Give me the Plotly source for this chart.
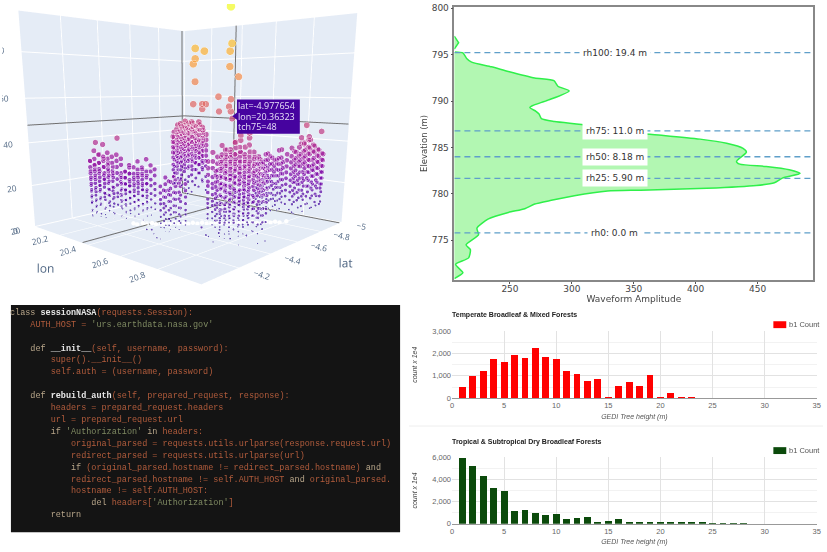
import plotly.graph_objects as go

W, H = 827, 552
def px(x): return x / W
def py(y): return 1 - y / H

# ---------- 3D panel data: ground position of each stack of footprints, and the heights found there ----------
tower_lon = [20.11,20.124,20.138,20.153,20.167,20.181,20.196,20.21,
 20.225,20.239,20.253,20.267,20.28,20.294,20.308,20.322,20.335,
 20.505,20.52,20.535,20.55,20.565,20.58,
 20.125,20.139,20.153,20.167,20.181,20.195,20.208,20.222,20.236,20.25,
 20.715,20.729,20.742,20.756,20.769,20.783,20.797,20.81,20.824,20.838,20.851,20.865,
 20.63,20.645,20.66,20.675,20.69,20.705,20.72,
 20.77,20.785,20.8,20.815,20.83,20.845,20.86,20.875,20.89,
 20.785,20.81,
 20.157,20.171,20.185,20.2,20.214,20.228,
 20.265,20.279,20.293,20.307,20.32,20.334,20.348,
 20.54,20.555,20.57,20.585,
 20.09,20.104,20.118,20.132,20.146,20.16,20.174,20.188,20.2,
 20.773,20.787,20.8,20.813,20.827,20.84,20.854,20.868,20.882,20.895,
 20.647,20.661,20.675,20.688,20.702,20.715,20.729,20.743,20.757,20.77,
 20.68,20.695,20.71,20.725,20.74,
 20.82,20.835,20.85,20.865,20.88,20.895,20.91]
tower_lat = [-4.24,-4.254,-4.268,-4.283,-4.297,-4.311,-4.326,-4.34,
 -4.325,-4.339,-4.353,-4.367,-4.38,-4.394,-4.408,-4.422,-4.435,
 -4.305,-4.32,-4.335,-4.35,-4.365,-4.38,
 -4.775,-4.789,-4.803,-4.817,-4.831,-4.845,-4.858,-4.872,-4.886,-4.9,
 -4.415,-4.429,-4.442,-4.456,-4.469,-4.483,-4.497,-4.51,-4.524,-4.538,-4.551,-4.565,
 -4.83,-4.845,-4.86,-4.875,-4.89,-4.905,-4.92,
 -4.87,-4.885,-4.9,-4.915,-4.93,-4.945,-4.96,-4.975,-4.99,
 -4.485,-4.51,
 -4.207,-4.221,-4.235,-4.25,-4.264,-4.278,
 -4.29,-4.304,-4.318,-4.332,-4.345,-4.359,-4.373,
 -4.29,-4.305,-4.32,-4.335,
 -4.82,-4.834,-4.848,-4.862,-4.876,-4.89,-4.904,-4.918,-4.93,
 -4.373,-4.387,-4.4,-4.413,-4.427,-4.44,-4.454,-4.468,-4.482,-4.495,
 -4.447,-4.461,-4.475,-4.488,-4.502,-4.515,-4.529,-4.543,-4.557,-4.57,
 -4.81,-4.825,-4.84,-4.855,-4.87,
 -4.85,-4.865,-4.88,-4.895,-4.91,-4.925,-4.94]
tower_tch = [
 [30,27,24,21,18,15,12,9,5,3],[35,31,28,25,22,19,16,13,10,7,4],[33,29,26,24,20,18,15,11,8,2],[38,32,30,27,23,21,17,14,12,6,3],
 [34,31,28,26,22,19,16,13,9,5],[32,29,25,23,20,17,15,11,7,4,1],[33,30,27,24,21,18,14,12,8],[31,28,24,22,19,16,13,10,6,2],
 [22,19,16,13,10,7,3],[25,22,19,16,14,11,8,5],[27,24,20,18,15,12,9,4],[24,21,18,15,13,10,6,2],[30,26,23,20,17,14,11,8],
 [27,24,21,18,16,13,9,5,1],[31,25,22,19,15,12,10,6],[28,25,21,18,14,11,7,3],[26,23,19,16,13,9,6],
 [22,19,16,14,11,8,5,3],[26,23,20,17,13,10,7,4,1],[24,21,18,15,12,9,6,2],[28,25,22,19,16,13,10,7,3],[25,22,18,15,12,8,5,1],[23,20,17,14,11,9,6,4],
 [38,35,32,29,26,22,19,15],[42,39,36,33,30,27,24,21,17,11],[45,41,38,35,32,29,26,23,19,14],[44,40,37,34,31,28,25,22,18,8],[43,40,36,33,30,27,24,20,12,5],
 [46,42,38,35,32,28,25,21,16,6],[44,41,37,34,31,27,23,19,10],[46,42,39,36,33,29,26,22,17,9],[43,40,37,34,30,27,24,20,13],[39,36,33,30,27,24,21,15,7],
 [30,28,25,23,20,18,15,13,10,8,5],[36,33,30,27,24,22,19,16,13,11,8,5,2],[39,35,32,29,27,24,21,18,15,12,9,6],[38,34,31,28,26,23,20,17,14,10,7,3],
 [42,37,33,30,27,25,22,19,16,13,11,8,4,1],[40,36,32,29,26,24,21,18,15,12,9,5],[37,34,31,28,25,22,20,17,14,11,8,6,2],[41,36,33,30,27,24,21,18,16,13,10,7],
 [38,35,32,29,26,23,19,16,13,10,7,3],[36,33,30,27,24,22,19,15,12,9,5],[33,31,28,25,22,19,16,13,10,6],[30,27,25,22,19,16,13,11,7],
 [30,27,24,21,18,15,12,9],[28,25,22,19,16,13,10,6,2],[32,29,26,23,20,17,14,11,7],[31,27,24,20,18,15,12,8,4],[29,26,23,21,17,14,11,9,5],[34,30,27,24,21,18,15,12,8,3],[28,25,22,19,16,13,10,7],
 [33,30,27,24,21,18,15,12,8],[36,32,29,26,23,20,17,14,10,5],[34,31,28,25,22,19,16,13,9,3],[38,33,30,27,24,21,18,15,11,6],[35,32,29,26,23,20,17,13,10,4],
 [40,36,33,30,27,24,20,17,14,8],[37,34,31,28,25,22,18,15,12,6],[35,32,29,26,23,19,16,12,7],[33,30,27,24,21,18,14,9],
 [54,51,48,45,43],[52,49,46,44],
 [31,26,23,20,17,14,11,7,4],[29,27,24,22,18,16,12,9,6],[34,30,26,23,19,17,13,10,5],[32,28,25,22,20,15,12,8,3],[30,26,24,21,17,14,11,9],[28,25,23,18,15,13,10,5],
 [24,21,17,15,12,9,4],[26,23,20,17,12,10,6,3],[29,25,22,19,16,13,7],[28,23,20,17,14,11,8,4],[25,23,20,16,12,9,5],[27,24,20,17,14,10,7,2],[24,20,17,14,11,8,4],
 [21,18,15,13,10,7,4],[25,21,19,16,12,8,5,2],[27,24,20,17,14,11,6],[24,20,17,13,10,7,3],
 [40,37,34,31,28,24,20,16,10],[44,40,37,34,31,28,25,22,18,13],[43,39,36,33,30,26,23,20,15,9],[46,42,38,35,32,29,26,23,19,12],[45,41,39,36,33,30,27,24,20,14,7],
 [45,43,40,37,34,30,26,23,18,11],[43,39,35,32,29,25,22,18,13],[44,41,38,35,31,28,25,21,16],[41,38,35,32,29,26,22,18,11],
 [35,32,29,26,24,21,17,14,11,9,6,3],[38,34,31,28,25,23,20,17,15,12,9,4,2],[40,37,34,31,28,25,22,19,17,14,11,7,4],[43,38,35,32,29,26,23,20,18,15,12,9,6],[39,35,32,30,27,23,20,18,14,12,8,5,3],
 [41,37,35,33,28,25,23,20,17,13,10,7,4],[39,35,32,29,27,24,21,19,16,13,11,8],[37,34,31,29,26,23,20,18,15,12,9,5],[36,32,30,27,25,22,18,15,13,11,8,4],[32,29,26,23,21,18,15,12,9,6],
 [33,30,27,24,22,19,16,14,12,9,7],[37,33,30,26,23,21,18,15,13,10,7,4],[35,32,29,26,24,20,17,14,12,9,6],[40,36,33,30,26,23,21,17,14,11,8],[38,35,31,28,25,22,19,17,14,10,6],
 [36,33,30,27,25,21,18,16,13,10,7],[39,34,31,29,26,23,19,17,14,12,9],[37,33,30,26,23,20,18,15,13,10,6],[34,31,28,26,23,20,17,14,11,8],[31,28,26,23,20,17,14,12,8],
 [29,26,23,20,17,14,11,8,5],[33,30,26,22,19,16,13,10,6],[31,28,25,22,19,17,13,10,4],[30,28,25,22,18,16,12,9,7],[35,31,28,25,23,20,16,13,10,5],
 [35,31,28,25,22,20,16,13,9,5],[37,33,30,28,24,21,19,15,11],[39,35,32,29,25,22,20,16,13,8],[42,37,34,31,28,25,22,18,13,9],[38,35,31,28,26,23,20,17,12,7],[36,33,30,27,24,21,18,14,10],[34,31,28,25,22,19,17,13,9],
]
# single footprints: tall outliers and sparse low returns
single_lon = [20.75,20.655,20.68,20.755,20.75,20.655,20.65,20.75,20.775,20.655,20.72,20.755,20.65,20.675,20.685,20.675,20.75,20.722,20.755,20.36323,
 20.83,20.88,20.815,20.84,20.825,20.2,20.13,
 20.53,20.55,20.57,20.6,20.62,20.74,20.76,20.78,20.8,20.82,20.86,20.88,20.9,20.94,20.96]
single_lat = [-4.45,-4.355,-4.38,-4.455,-4.45,-4.355,-4.35,-4.45,-4.475,-4.355,-4.42,-4.455,-4.35,-4.375,-4.385,-4.375,-4.45,-4.422,-4.455,-4.977654,
 -4.93,-4.98,-4.915,-4.94,-4.925,-4.33,-4.26,
 -4.2,-4.22,-4.19,-4.21,-4.17,-4.3,-4.32,-4.28,-4.3,-4.31,-4.33,-4.36,-4.38,-4.4,-4.42]
single_tch = [96,80,79,82,79,76,74,73,69,67,61,60,58,58,58,56,57,55,55,48,
 47,44,41,40,38,41,39,
 5,3,6,2,4,8,4,6,3,7,5,2,6,3,4]
# white floor returns
floor_lon = [20.315,20.33,20.345,20.36,20.375,20.39,20.405,20.42,20.435,20.45,20.465,20.48,20.495,20.51,20.525,20.54,20.555,20.57,20.585,20.6,20.615,20.63,20.645,20.66,20.675,20.69,20.705,20.72,20.735,20.75,20.765,20.78,20.795,20.815]
floor_lat = [-4.315,-4.325,-4.345,-4.355,-4.375,-4.385,-4.405,-4.415,-4.43,-4.445,-4.46,-4.475,-4.49,-4.505,-4.52,-4.535,-4.55,-4.565,-4.58,-4.595,-4.61,-4.625,-4.64,-4.655,-4.67,-4.685,-4.7,-4.715,-4.73,-4.745,-4.76,-4.775,-4.79,-4.815]
floor_tch = [1,0.5,1,0.5,1,0.5,0.5,1,0.5,1,0.5,1,0.5,1,0.5,1,0.5,0.5,1,0.5,1,0.5,1,0.5,1,0.5,1,0.5,0.5,1,0.5,1,0.5,1]
hover_lat, hover_lon, hover_tch = -4.977654, 20.36323, 48

# ---------- waveform panel data ----------
wave_amp = [205.1,212,206,216.6,218,214.5,224.6,223.3,232.6,248.7,262,270,283.4,302,328.8,355.5,409,449,463.6,470,484.4,475.6,457,435.6,433,441,438.3,425,403.5,374,339,312.8,286,275.4,273.5,271,266,268,280.7,297.8,288.7,285.5,270,248.7,235,219,215,212,205.5]
wave_elev = [770.87,771.5,772.4,773.1,774,774.5,775.6,776.3,777.3,778,778.4,778.9,779.3,779.8,780.3,780.4,780.6,780.9,781.2,781.7,782.2,782.6,782.95,783.2,783.5,784.5,784.9,785.45,785.9,786.3,786.7,787.4,787.8,788.1,788.6,788.9,789.3,789.5,790.1,791.1,791.6,792.2,792.5,793.2,793.7,794.2,794.6,795.2,795.3]
wave_top_amp = [205, 208.5, 205]
wave_top_elev = [795.6, 796.3, 797]
rh_labels = ["rh100: 19.4 m", "rh75: 11.0 m", "rh50: 8.18 m", "rh25: 5.90 m", "rh0: 0.0 m"]
rh_elev = [795.23, 786.8, 784.0, 781.67, 775.8]

# ---------- histogram data ----------
bins_d = list(range(1, 24))
count_d = [490,980,1220,1750,1600,1940,1770,2240,1840,1750,1200,1060,760,860,20,520,710,550,1030,15,200,40,10]
bins_e = list(range(1, 29))
count_e = [5900,5150,4280,3200,2950,1130,1220,950,800,880,400,500,600,180,200,450,90,150,150,100,70,70,70,50,25,25,15,10]

fig = go.Figure()

# ---- 3D ----
lat_pts, lon_pts, tch_pts = list(single_lat), list(single_lon), list(single_tch)
for la, lo, hs in zip(tower_lat, tower_lon, tower_tch):
    for h in hs:
        lat_pts.append(la); lon_pts.append(lo); tch_pts.append(h)
fig.add_trace(go.Scatter3d(x=floor_lat, y=floor_lon, z=floor_tch, mode="markers",
    marker=dict(size=2.6, color="white", line=dict(color="white", width=0)), showlegend=False))
fig.add_trace(go.Scatter3d(x=lat_pts, y=lon_pts, z=tch_pts, mode="markers",
    marker=dict(size=tch_pts, sizemode="area", sizeref=0.45, color=tch_pts, colorscale="Plasma",
                cmin=0, cmax=96, line=dict(color="white", width=0.7)), showlegend=False))
spk = dict(mode="lines", line=dict(color="#707070", width=2), showlegend=False, hoverinfo="skip")
fig.add_trace(go.Scatter3d(x=[-4,-4.997,-4.997,-4.997,-4.997,-4.997], y=[hover_lon]*3+[hover_lon,20,21], z=[0.3,0.3,97,hover_tch,hover_tch,hover_tch], **spk))
fig.add_trace(go.Scatter3d(x=[hover_lat,hover_lat,hover_lat], y=[21,20.003,20.003], z=[0.3,0.3,97], **spk))
fig.add_trace(go.Scatter3d(x=[-5,-4], y=[20.003,20.003], z=[hover_tch,hover_tch], **spk))
ax3 = dict(backgroundcolor="#e5ecf6", gridcolor="white", zerolinecolor="white", showbackground=True,
           linecolor="white", ticks="", tickfont=dict(color="#506784", size=10, family="Open Sans"),
           showspikes=False)
fig.update_layout(scene=dict(
    domain=dict(x=[0, px(380)], y=[py(410), py(0)]),
    xaxis=dict(ax3, title=dict(text="lat", font=dict(size=12, color="#506784")), range=[-5, -4], tickvals=[-5,-4.8,-4.6,-4.4,-4.2], ticktext=["−5","−4.8","−4.6","−4.4","−4.2"]),
    yaxis=dict(ax3, title=dict(text="lon", font=dict(size=12, color="#506784")), range=[20, 21], tickvals=[20,20.2,20.4,20.6,20.8]),
    zaxis=dict(ax3, title=dict(text=""), range=[0, 97], tickvals=[0,20,40,60,80]),
    camera=dict(eye=dict(x=1.6, y=1.45, z=0.15), center=dict(x=0, y=0, z=-0.37)),
    aspectmode="manual", aspectratio=dict(x=1, y=1, z=0.92),
))

# ---- waveform ----
fig.add_trace(go.Scatter(x=wave_amp, y=wave_elev, mode="lines", fill="tozerox", fillcolor="#b2f7b2",
    line=dict(color="#2ff04a", width=1.5, shape="spline", smoothing=0.6), xaxis="x", yaxis="y", showlegend=False))
fig.add_trace(go.Scatter(x=wave_top_amp, y=wave_top_elev, mode="lines", fill="tozerox", fillcolor="#b2f7b2",
    line=dict(color="#2ff04a", width=1.5), xaxis="x", yaxis="y", showlegend=False))
for e in rh_elev:
    fig.add_trace(go.Scatter(x=[205.1, 495.1], y=[e, e], mode="lines", line=dict(color="#5f9fc9", width=1.3, dash="6px,4px"),
                             xaxis="x", yaxis="y", showlegend=False))
annos = []
for t, e in zip(rh_labels, rh_elev):
    annos.append(dict(x=334.7, y=e, xref="x", yref="y", text=t, showarrow=False, bgcolor="white",
                      font=dict(family="DejaVu Sans", size=9, color="#333333"), borderpad=3))
frame = dict(showline=True, linecolor="#888888", linewidth=1.5, mirror=True, ticks="outside", ticklen=2,
             tickcolor="#555555", showgrid=False, zeroline=False, tickfont=dict(family="DejaVu Sans", size=9, color="#444444"))
fig.update_layout(
    xaxis=dict(frame, domain=[px(455.7), px(817.3)], anchor="y", range=[205.1, 495.1], tickvals=[250,300,350,400,450],
               ticklabelstandoff=-3,
               title=dict(text="Waveform Amplitude", font=dict(family="DejaVu Sans", size=9, color="#444444"), standoff=1)),
    yaxis=dict(frame, domain=[py(280.7), py(2.7)], anchor="x", range=[770.7, 800.18], tickvals=[775,780,785,790,795,800],
               title=dict(text="Elevation (m)", font=dict(family="DejaVu Sans", size=8.5, color="#444444"), standoff=3)),
)

# ---- histograms ----
def gax(domain, anchor):
    return dict(domain=domain, anchor=anchor, range=[0, 35], tickvals=[0,5,10,15,20,25,30,35], showgrid=True,
                gridcolor="#e2e2e2", zeroline=False, showline=True, linecolor="#999999", ticks="",
                tickfont=dict(family="Liberation Sans", size=7.5, color="#666666"),
                title=dict(text="GEDI Tree height (m)", font=dict(family="Liberation Sans", size=7, color="#555555", style="italic"), standoff=4))
def gay(domain, anchor, rng, dt, title):
    return dict(domain=domain, anchor=anchor, range=rng, dtick=dt, showgrid=True, gridcolor="#e2e2e2", zeroline=False,
                tickformat=",", ticks="", minor=dict(dtick=dt/2, showgrid=True, gridcolor="#f2f2f2"),
                tickfont=dict(family="Liberation Sans", size=7.5, color="#666666"),
                title=dict(text=title, font=dict(family="Liberation Sans", size=7, color="#444444", style="italic"), standoff=13))
fig.add_trace(go.Bar(x=bins_d, y=count_d, width=0.66, marker=dict(color="#ff0000", line_width=0), xaxis="x2", yaxis="y2", showlegend=False))
fig.add_trace(go.Bar(x=bins_e, y=count_e, width=0.66, marker=dict(color="#0b4a0b", line_width=0), xaxis="x3", yaxis="y3", showlegend=False))
fig.update_layout(
    xaxis2=gax([px(453.3), px(820.7)], "y2"), yaxis2=gay([py(400.7), py(332.7)], "x2", [0, 3000], 1000, "count x 1e4"),
    xaxis3=gax([px(453.3), px(820.7)], "y3"), yaxis3=gay([py(528.3), py(460.7)], "x3", [0, 6000], 2000, "count x 1e4"),
)
shapes = []
def legend(y, color):
    shapes.append(dict(type="rect", xref="paper", yref="paper", x0=px(777), x1=px(790), y0=py(y+3.5), y1=py(y-3.5), fillcolor=color, line_width=0, layer="above"))
    annos.append(dict(xref="paper", yref="paper", x=px(791), y=py(y), xanchor="left", yanchor="middle", text="b1 Count", showarrow=False,
                      font=dict(family="Liberation Sans", size=7.5, color="#555555")))
legend(326, "#ff0000"); legend(454, "#0b4a0b")
annos.append(dict(xref="paper", yref="paper", x=px(451), y=py(316), xanchor="left", yanchor="middle", text="<b>Temperate Broadleaf &amp; Mixed Forests</b>", showarrow=False,
                  font=dict(family="Liberation Sans", size=7, color="#222222")))
annos.append(dict(xref="paper", yref="paper", x=px(451), y=py(445), xanchor="left", yanchor="middle", text="<b>Tropical &amp; Subtropical Dry Broadleaf Forests</b>", showarrow=False,
                  font=dict(family="Liberation Sans", size=7, color="#222222")))
shapes.append(dict(type="line", xref="paper", yref="paper", x0=px(410), x1=px(827), y0=py(429), y1=py(429), line=dict(color="#eeeeee", width=1)))

# ---- code ----
shapes.append(dict(type="rect", xref="paper", yref="paper", x0=px(9), x1=px(401), y0=py(537), y1=py(306), fillcolor="#141414", line_width=0, layer="below"))
N = "#b25c3c"; K = "#b8a68a"; S = "#7f8a62"; W_ = "#e8e8e8"
code_lines = [
    [(K,"class "),(W_,"<b>sessionNASA</b>"),(N,"(requests.Session):")],
    [(N,"    AUTH_HOST = "),(S,"'urs.earthdata.nasa.gov'")],
    [],
    [(K,"    def "),(W_,"<b>__init__</b>"),(N,"(self, username, password):")],
    [(N,"        super().__init__()")],
    [(N,"        self.auth = (username, password)")],
    [],
    [(K,"    def "),(W_,"<b>rebuild_auth</b>"),(N,"(self, prepared_request, response):")],
    [(N,"        headers = prepared_request.headers")],
    [(N,"        url = prepared_request.url")],
    [(K,"        if "),(S,"'Authorization'"),(K," in "),(N,"headers:")],
    [(N,"            original_parsed = requests.utils.urlparse(response.request.url)")],
    [(N,"            redirect_parsed = requests.utils.urlparse(url)")],
    [(K,"            if "),(N,"(original_parsed.hostname != redirect_parsed.hostname) "),(K,"and")],
    [(N,"            redirect_parsed.hostname != self.AUTH_HOST "),(K,"and "),(N,"original_parsed.")],
    [(N,"            hostname != self.AUTH_HOST:")],
    [(K,"                del "),(N,"headers["),(S,"'Authorization'"),(N,"]")],
    [(K,"        return")],
]
for i, segs in enumerate(code_lines):
    if not segs: continue
    txt = "".join('<span style="color:%s">%s</span>' % (c, t.replace(" ", "\u00a0")) for c, t in segs)
    annos.append(dict(xref="paper", yref="paper", x=px(6), y=py(314 + 12.1 * i), xanchor="left", yanchor="middle", text=txt,
                      showarrow=False, align="left", font=dict(family="Liberation Mono", size=8.47, color=N)))

# ---- hover label ----
shapes.append(dict(type="rect", xref="paper", yref="paper", x0=px(236.7), x1=px(300), y0=py(132), y1=py(97), fillcolor="#46039f", line_width=0, layer="above"))
shapes.append(dict(type="path", xref="paper", yref="paper", path="M %f %f L %f %f L %f %f Z" % (px(232), py(114), px(237), py(110), px(237), py(118)), fillcolor="#46039f", line_width=0, layer="above"))
for i, t in enumerate(["lat=-4.977654", "lon=20.36323", "tch75=48"]):
    annos.append(dict(xref="paper", yref="paper", x=px(236), y=py(103 + 11 * i), xanchor="left", yanchor="middle", text=t, showarrow=False,
                      font=dict(family="Open Sans", size=9, color="#e8e0f8")))

fig.update_layout(width=W, height=H, margin=dict(l=0, r=0, t=0, b=0), paper_bgcolor="white", plot_bgcolor="white",
                  annotations=annos, shapes=shapes, bargap=0, showlegend=False)
fig.write_html("out.html", config=dict(displayModeBar=False),
               post_script="document.body.style.margin='0';document.documentElement.style.overflow='hidden';")
